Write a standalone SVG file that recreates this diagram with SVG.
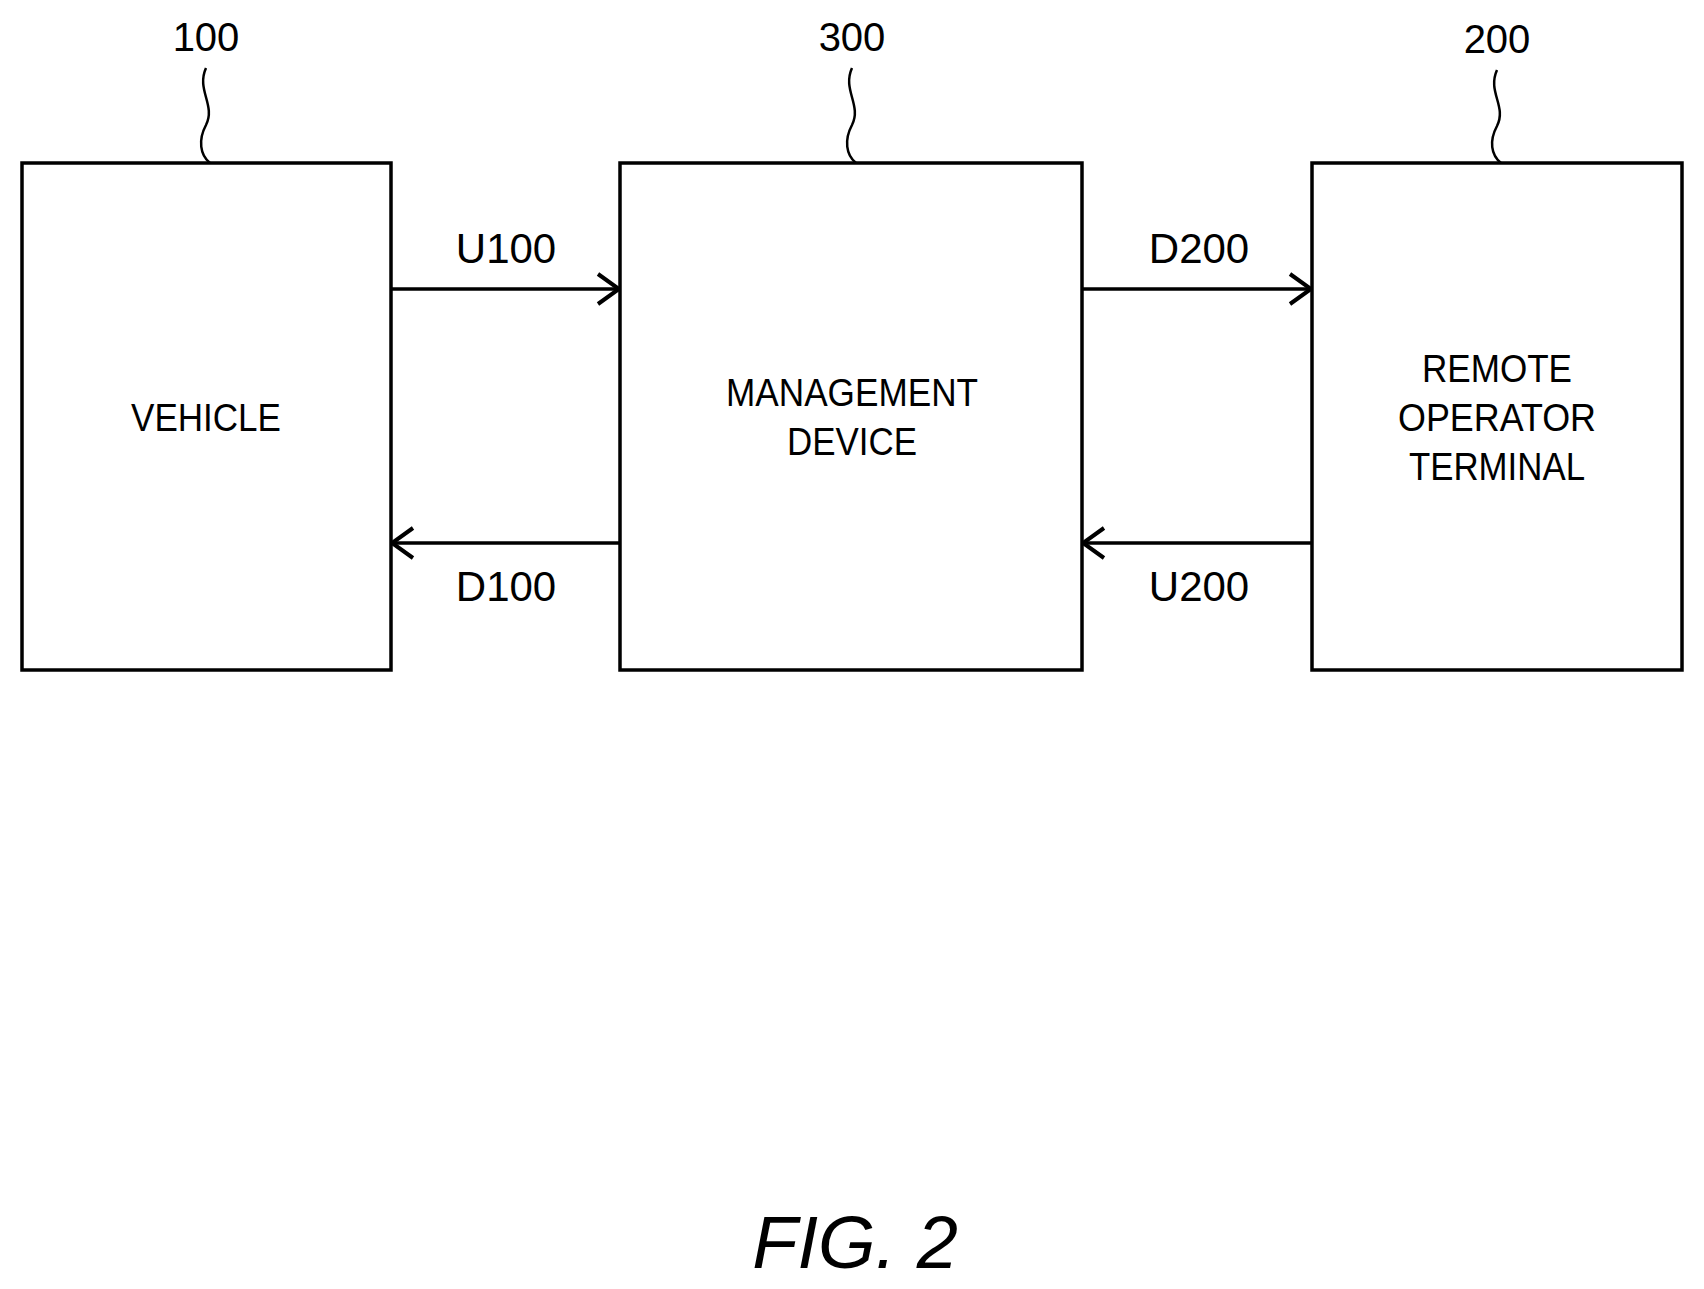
<svg xmlns="http://www.w3.org/2000/svg" width="1704" height="1289" viewBox="0 0 1704 1289">
<defs><style>
.box{fill:#fff;stroke:#000;stroke-width:3.5}
.ln{fill:none;stroke:#000;stroke-width:3.5}
.ld{fill:none;stroke:#000;stroke-width:2.5}
text{font-family:"Liberation Sans",Arial,sans-serif;fill:#000;text-anchor:middle}
.t{font-size:39px}
.c{font-size:42px}
.n{font-size:40px}
</style>
<marker id="ah" viewBox="0 0 26 34" refX="24" refY="17" markerWidth="26" markerHeight="34" markerUnits="userSpaceOnUse" orient="auto"><path d="M3,2 L24,17 L3,32" fill="none" stroke="#000" stroke-width="4"/></marker>
</defs>
<rect width="1704" height="1289" fill="#fff"/>
<g id="n100"><rect class="box" x="22" y="163" width="369" height="507"/><text class="t" x="206" y="431" textLength="150" lengthAdjust="spacingAndGlyphs">VEHICLE</text></g>
<g id="n300"><rect class="box" x="620" y="163" width="462" height="507"/><text class="t" x="852" y="406" textLength="252" lengthAdjust="spacingAndGlyphs">MANAGEMENT</text><text class="t" x="852" y="455" textLength="130" lengthAdjust="spacingAndGlyphs">DEVICE</text></g>
<g id="n200"><rect class="box" x="1312" y="163" width="370" height="507"/><text class="t" x="1497" y="382" textLength="150" lengthAdjust="spacingAndGlyphs">REMOTE</text><text class="t" x="1497" y="431" textLength="198" lengthAdjust="spacingAndGlyphs">OPERATOR</text><text class="t" x="1497" y="480" textLength="176" lengthAdjust="spacingAndGlyphs">TERMINAL</text></g>
<g id="refs">
<text class="n" x="206" y="51">100</text><path class="ld" d="M206,68 C196,90 216,105 206,125 C198,140 200,155 210,163"/>
<text class="n" x="852" y="51">300</text><path class="ld" d="M852,68 C842,90 862,105 852,125 C844,140 846,155 856,163"/>
<text class="n" x="1497" y="53">200</text><path class="ld" d="M1497,70 C1487,92 1507,106 1497,126 C1489,141 1491,155 1501,163"/>
</g>
<g id="connectors">
<line class="ln" x1="391" y1="289" x2="619" y2="289" marker-end="url(#ah)"/>
<line class="ln" x1="1082" y1="289" x2="1311" y2="289" marker-end="url(#ah)"/>
<line class="ln" x1="620" y1="543" x2="392" y2="543" marker-end="url(#ah)"/>
<line class="ln" x1="1312" y1="543" x2="1083" y2="543" marker-end="url(#ah)"/>
<text class="c" x="506" y="263">U100</text>
<text class="c" x="1199" y="263">D200</text>
<text class="c" x="506" y="601">D100</text>
<text class="c" x="1199" y="601">U200</text>
</g>
<text x="855" y="1268" font-size="74" font-style="italic">FIG. 2</text>
</svg>
